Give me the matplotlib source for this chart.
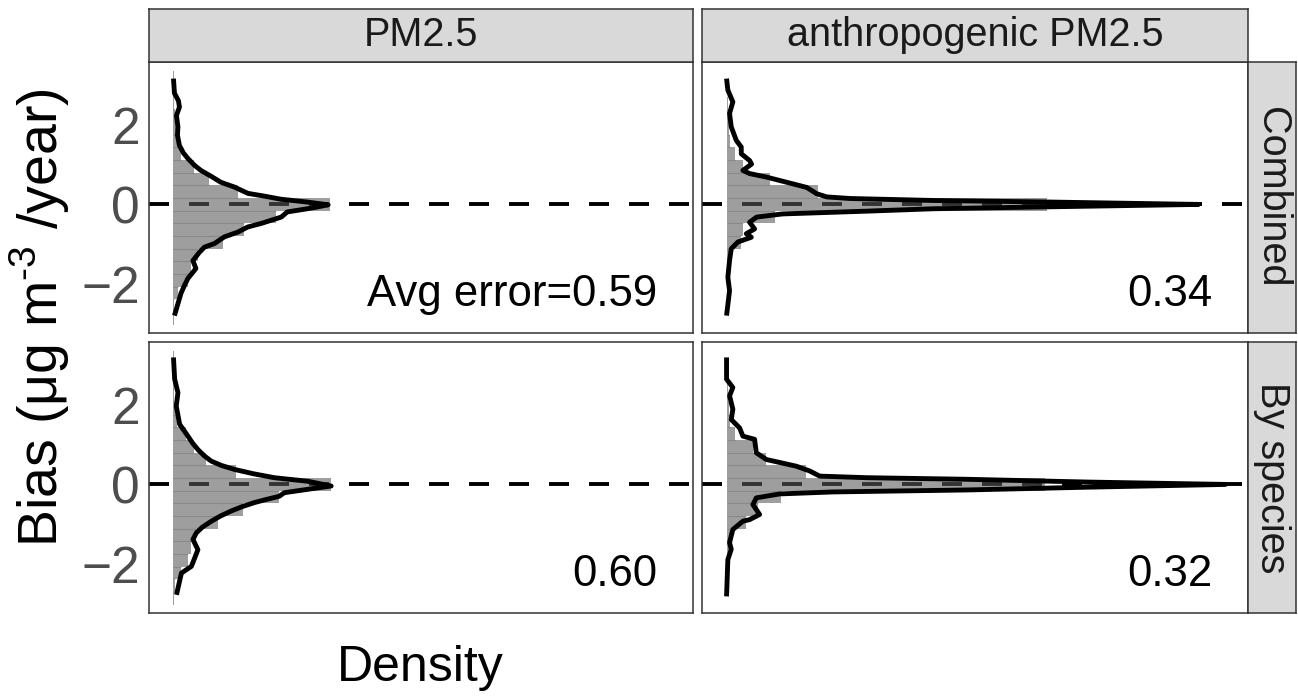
import numpy as np
import matplotlib.pyplot as plt

plt.rcParams['font.family'] = ['Liberation Sans', 'DejaVu Sans']
plt.rcParams['mathtext.fontset'] = 'custom'
plt.rcParams['mathtext.rm'] = 'Liberation Sans'
plt.rcParams['lines.scale_dashes'] = False

# histogram bins (bias, ug m-3 /year)
bin_centers = [-2.88, -2.56, -2.24, -1.92, -1.60, -1.28, -0.96, -0.64, -0.32, 0.00,
               0.32, 0.64, 0.96, 1.28, 1.60, 1.92, 2.24, 2.56, 2.88, 3.20]
bin_width = 0.32

hist_pm_comb = [0.005, 0.01, 0.045, 0.145, 0.18, 0.245, 0.495, 0.71, 1.03, 1.565,
                0.645, 0.36, 0.21, 0.08, 0.05, 0.03, 0.02, 0.01, 0.01, 0.005]
hist_anth_comb = [0.005, 0.01, 0.01, 0.015, 0.02, 0.03, 0.147, 0.163, 0.48, 3.2,
                  0.913, 0.43, 0.163, 0.08, 0.03, 0.02, 0.01, 0.01, 0.005, 0.0]
hist_pm_spec = [0.005, 0.012, 0.078, 0.145, 0.178, 0.228, 0.445, 0.695, 1.062, 1.58,
                0.628, 0.328, 0.21, 0.128, 0.04, 0.02, 0.01, 0.01, 0.005, 0.005]
hist_anth_spec = [0.0, 0.005, 0.01, 0.01, 0.02, 0.03, 0.197, 0.313, 0.547, 3.18,
                  0.797, 0.397, 0.263, 0.08, 0.03, 0.02, 0.01, 0.01, 0.005, 0.0]

# kernel density curves: bias value and density
dens_pm_comb_y = [3.18, 2.81, 2.62, 2.46, 2.25, 1.96, 1.75, 1.49, 1.30, 1.16, 0.99, 0.86,
                  0.71, 0.56, 0.44, 0.28, 0.21, 0.13, 0.06, -0.01, -0.06, -0.11, -0.19,
                  -0.32, -0.48, -0.57, -0.70, -0.82, -0.99, -1.08, -1.21, -1.42, -1.62,
                  -1.87, -2.05, -2.25, -2.81]
dens_pm_comb_x = [0.0, 0.01, 0.05, 0.06, 0.03, 0.045, 0.04, 0.06, 0.10, 0.145, 0.21, 0.275,
                  0.378, 0.475, 0.61, 0.745, 0.91, 1.08, 1.34, 1.55, 1.45, 1.34, 1.14,
                  1.08, 0.88, 0.745, 0.645, 0.51, 0.41, 0.31, 0.26, 0.195, 0.225,
                  0.145, 0.11, 0.075, 0.01]

dens_anth_comb_y = [3.18, 2.89, 2.59, 2.30, 1.96, 1.62, 1.45, 1.28, 1.11, 1.02, 0.86, 0.78,
                    0.69, 0.56, 0.43, 0.27, 0.19, 0.15, 0.10, 0.06, 0.0, -0.06, -0.11,
                    -0.17, -0.24, -0.32, -0.45, -0.62, -0.74, -0.83, -0.95, -1.12, -1.42,
                    -1.84, -2.18, -2.81]
dens_anth_comb_x = [0.0, 0.013, 0.063, 0.03, 0.047, 0.097, 0.147, 0.147, 0.23, 0.25, 0.163, 0.23,
                    0.40, 0.60, 0.80, 0.90, 1.00, 1.23, 2.06, 3.23, 4.71, 3.23, 2.06,
                    1.40, 0.56, 0.30, 0.23, 0.28, 0.197, 0.247, 0.113, 0.047, 0.03,
                    0.013, 0.03, 0.0]

dens_pm_spec_y = [3.21, 2.66, 2.32, 1.98, 1.52, 1.22, 1.05, 0.88, 0.72, 0.59, 0.48, 0.38,
                  0.27, 0.17, 0.08, -0.04, -0.10, -0.21, -0.30, -0.38, -0.46, -0.56,
                  -0.67, -0.80, -0.93, -1.08, -1.22, -1.39, -1.65, -2.07, -2.24, -2.79]
dens_pm_spec_x = [0.0, 0.012, 0.045, 0.028, 0.062, 0.145, 0.19, 0.245, 0.31, 0.378, 0.48, 0.61,
                  0.80, 1.01, 1.345, 1.58, 1.41, 1.11, 1.06, 0.93, 0.81, 0.69,
                  0.58, 0.47, 0.38, 0.29, 0.23, 0.195, 0.245, 0.18, 0.08, 0.03]

dens_anth_spec_y = [3.21, 2.66, 2.45, 2.24, 1.90, 1.64, 1.43, 1.22, 1.14, 0.80, 0.63, 0.46,
                    0.34, 0.21, 0.17, 0.13, 0.06, 0.0, -0.07, -0.14, -0.19, -0.24, -0.34,
                    -0.51, -0.76, -0.89, -0.93, -1.14, -1.47, -1.64, -1.90, -2.83]
dens_anth_spec_x = [0.0, 0.0, 0.063, 0.03, 0.063, 0.047, 0.13, 0.163, 0.28, 0.297, 0.397, 0.697,
                    0.83, 0.93, 1.40, 2.40, 3.60, 4.98, 3.60, 2.40, 1.06, 0.53, 0.297,
                    0.263, 0.33, 0.23, 0.163, 0.063, 0.03, 0.047, 0.013, 0.0]

col_labels = ['PM2.5', 'anthropogenic PM2.5']
row_labels = ['Combined', 'By species']
error_labels = [['Avg error=0.59', '0.34'], ['0.60', '0.32']]

hists = [[hist_pm_comb, hist_anth_comb], [hist_pm_spec, hist_anth_spec]]
curves = [[(dens_pm_comb_y, dens_pm_comb_x), (dens_anth_comb_y, dens_anth_comb_x)],
          [(dens_pm_spec_y, dens_pm_spec_x), (dens_anth_spec_y, dens_anth_spec_x)]]

W, H = 1298, 697
fig = plt.figure(figsize=(W / 100, H / 100), dpi=100)


def px_axes(x0, y0, x1, y1):
    return fig.add_axes([x0 / W, 1 - y1 / H, (x1 - x0) / W, (y1 - y0) / H])


def frame(ax, color='#333333'):
    for s in ax.spines.values():
        s.set_color(color)
        s.set_linewidth(1.1)


col_x = [(149, 693), (702, 1248)]
row_y = [(62, 333), (342, 613)]
bar_col = '#595959'

for r in range(2):
    for c in range(2):
        x0, x1 = col_x[c]
        y0, y1 = row_y[r]
        ax = px_axes(x0, y0, x1, y1)
        frame(ax)
        ax.axhline(0, color='black', lw=2.8, ls=(0, (14.4, 14.4)), zorder=1)
        h = np.array(hists[r][c])
        ax.barh(bin_centers, h, height=bin_width, color=bar_col, alpha=0.58,
                linewidth=0, zorder=2)
        # seams between neighbouring bins
        edges = np.array(bin_centers[:-1]) + bin_width / 2
        ax.hlines(edges, 0, np.minimum(h[:-1], h[1:]), color=bar_col, alpha=0.3,
                  lw=0.8, zorder=2)
        yy, xx = curves[r][c]
        ax.plot(xx, yy, color='black', lw=3.5, solid_joinstyle='round',
                solid_capstyle='butt', zorder=3)
        ax.text(4.85, -2.56, error_labels[r][c], ha='right', va='baseline',
                fontsize=31.5, color='black', zorder=4)
        ax.set_xlim(-0.245, 5.205)
        ax.set_ylim(-3.25, 3.6)
        ax.set_xticks([])
        ax.set_yticks([-2, 0, 2])
        if c == 0:
            ax.set_yticklabels(['\u22122', '0', '2'])
            ax.tick_params(axis='y', length=0, pad=6.5, labelsize=37,
                           labelcolor='#4d4d4d')
        else:
            ax.set_yticklabels([])
            ax.tick_params(axis='y', length=0)

# facet strips
for c in range(2):
    x0, x1 = col_x[c]
    sx = px_axes(x0, 9, x1, 62)
    sx.set_facecolor('#d9d9d9')
    sx.set_xticks([])
    sx.set_yticks([])
    frame(sx)
    sx.text(0.5, 0.5, col_labels[c], transform=sx.transAxes, ha='center',
            va='center', fontsize=28.5, color='#1a1a1a')

for r in range(2):
    y0, y1 = row_y[r]
    sy = px_axes(1248, y0, 1296, y1)
    sy.set_facecolor('#d9d9d9')
    sy.set_xticks([])
    sy.set_yticks([])
    frame(sy)
    sy.text(0.5, 0.5, row_labels[r], transform=sy.transAxes, ha='center',
            va='center', rotation=-90, fontsize=28.5, color='#1a1a1a')

fig.text(40 / W, 1 - 318 / H, 'Bias (\u03bcg m$^{\\mathregular{\u20103}}$ /year)',
         rotation=90, ha='center', va='center', fontsize=40)
fig.text(420 / W, 1 - 668 / H, 'Density', ha='center', va='center', fontsize=36)

fig.savefig('out.png', dpi=100)
